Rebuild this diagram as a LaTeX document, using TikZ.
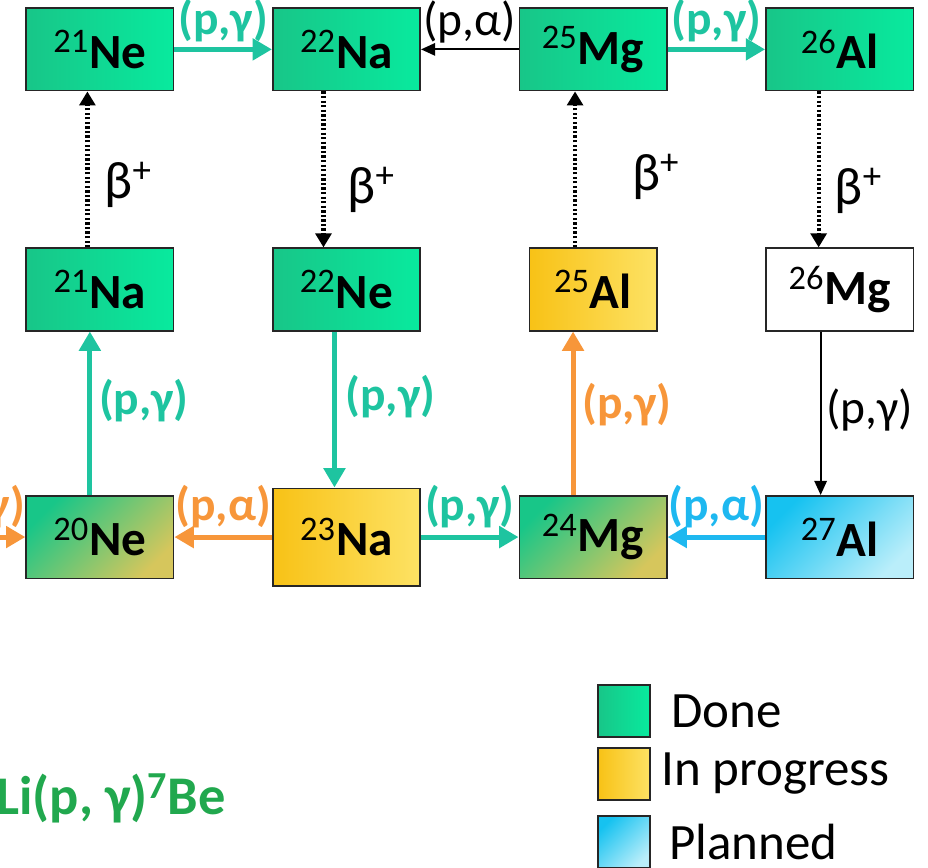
\documentclass[tikz,border=0pt]{standalone}
\usepackage{fontspec}
\setmainfont{Carlito}
\usetikzlibrary{matrix,positioning,arrows.meta}

\definecolor{doneL}{RGB}{24,198,136}
\definecolor{doneR}{RGB}{8,234,158}
\definecolor{progL}{RGB}{248,194,22}
\definecolor{progR}{RGB}{253,226,100}
\definecolor{planL}{RGB}{22,194,240}
\definecolor{planR}{RGB}{186,238,250}
\definecolor{mixR}{RGB}{214,198,92}
\definecolor{pgteal}{RGB}{30,196,160}
\definecolor{pgorange}{RGB}{247,150,58}
\definecolor{pgcyan}{RGB}{30,184,240}
\definecolor{ligreen}{RGB}{33,168,78}

\newcommand{\nuc}[2]{{\mdseries\textsuperscript{#1}}#2}

\begin{document}
\begin{tikzpicture}[ampersand replacement=\&,
  nuc/.style={draw=black!85, line width=0.9pt, minimum width=2.95cm,
    minimum height=1.65cm, anchor=center, font=\bfseries\fontsize{28}{32}\selectfont},
  done/.style={left color=doneL, right color=doneR},
  prog/.style={left color=progL, right color=progR},
  plan/.style={top color=planL, bottom color=planR, shading angle=45},
  mixed/.style={top color=doneL, bottom color=mixR, shading angle=45},
  rx/.style={font=\bfseries\fontsize{27}{31}\selectfont, inner sep=1pt},
  rxblack/.style={font=\fontsize{27}{31}\selectfont, inner sep=1pt},
  beta/.style={font=\fontsize{30}{34}\selectfont, inner sep=0pt},
  flow/.style={line width=2.8pt, -{Stealth[inset=0pt,length=11pt,width=12pt]}},
  thin/.style={line width=1.1pt, -{Stealth[inset=0pt,length=8pt,width=7pt]}},
  decay/.style={line width=2.4pt, dash pattern=on 1.3pt off 1.3pt,
    -{Stealth[inset=0pt,length=8pt,width=9pt]}},
  legbox/.style={draw=black!85, line width=1.1pt, minimum size=1.04cm, inner sep=0pt},
  legtext/.style={font=\fontsize{29}{33}\selectfont, inner sep=0pt}]

  \useasboundingbox (0,0) rectangle (18.56,-17.36);
  \clip (0,0) rectangle (18.56,-17.36);

  \matrix(m)[matrix of nodes, nodes={nuc}, row sep=3.12cm, column sep=1.95cm,
    anchor=north west, inner sep=0pt] at (0.5,-0.14)
  {  |[done]| \nuc{21}{Ne} \& |[done]| \nuc{22}{Na} \& |[done]| \nuc{25}{Mg} \& |[done]| \nuc{26}{Al} \\
     |[done]| \nuc{21}{Na} \& |[done]| \nuc{22}{Ne} \& |[prog, minimum width=2.55cm]| \nuc{25}{Al} \& |[fill=white]| \nuc{26}{Mg} \\
     |[mixed]| \nuc{20}{Ne} \& |[prog, minimum height=1.95cm]| \nuc{23}{Na} \& |[mixed]| \nuc{24}{Mg} \& |[plan]| \nuc{27}{Al} \\};

  \coordinate (in0) at (-1.3,0 |- m-3-1);

  % top row
  \path
    (m-1-1) edge [flow, pgteal] node [above=0.06cm, rx, text=pgteal] {(p,γ)} (m-1-2)
    (m-1-3) edge [thin] node [above=0.08cm, rxblack] {(p,α)} (m-1-2)
    (m-1-3) edge [flow, pgteal] node [above=0.06cm, rx, text=pgteal] {(p,γ)} (m-1-4);

  % beta decays
  \path
    ([xshift=-0.25cm]m-2-1.north) edge [decay] node [pos=0.4, right=0.3cm, beta] {β\textsuperscript{+}} ([xshift=-0.25cm]m-1-1.south)
    ([xshift=-0.46cm]m-1-2.south) edge [decay] node [pos=0.63, right=0.44cm, beta] {β\textsuperscript{+}} ([xshift=-0.46cm]m-2-2.north)
    ([xshift=-0.36cm]m-2-3.north) edge [decay] node [pos=0.45, right=1.1cm, beta] {β\textsuperscript{+}} ([xshift=-0.36cm]m-1-3.south)
    ([xshift=-0.42cm]m-1-4.south) edge [decay] node [pos=0.64, right=0.28cm, beta] {β\textsuperscript{+}} ([xshift=-0.42cm]m-2-4.north);

  % proton captures between rows 2 and 3
  \path
    ([xshift=-0.2cm]m-3-1.north) edge [flow, pgteal] node [pos=0.58, right=0.1cm, rx, text=pgteal] {(p,γ)} ([xshift=-0.2cm]m-2-1.south)
    ([xshift=-0.24cm]m-2-2.south) edge [flow, pgteal] node [pos=0.42, right=0.14cm, rx, text=pgteal] {(p,γ)} ([xshift=-0.24cm]m-3-2.north)
    ([xshift=-0.4cm]m-3-3.north) edge [flow, pgorange] node [pos=0.55, right=0.1cm, rx, text=pgorange] {(p,γ)} ([xshift=-0.4cm]m-2-3.south)
    ([xshift=-0.38cm]m-2-4.south) edge [thin] node [pos=0.48, right=0.06cm, rxblack] {(p,γ)} ([xshift=-0.38cm]m-3-4.north);

  % bottom row
  \path
    (in0) edge [flow, pgorange] node [above=0.1cm, rx, text=pgorange] {(p,γ)} (m-3-1)
    (m-3-2) edge [flow, pgorange] node [above=0.1cm, rx, text=pgorange] {(p,α)} (m-3-1)
    (m-3-2) edge [flow, pgteal] node [above=0.1cm, rx, text=pgteal] {(p,γ)} (m-3-3)
    (m-3-4) edge [flow, pgcyan] node [above=0.1cm, rx, text=pgcyan] {(p,α)} (m-3-3);

  \node (li) [anchor=base west, inner sep=0pt, text=ligreen,
    font=\bfseries\fontsize{31}{35}\selectfont] at (-0.08,-16.28) {Li(p, γ)\textsuperscript{7}Be};

  % legend
  \node (leg1) [legbox, left color=doneL, right color=doneR] at (12.48,-14.22) {};
  \node (leg2) [legbox, left color=progL, right color=progR] at (12.48,-15.48) {};
  \node (leg3) [legbox, top color=planL, bottom color=planR, shading angle=45] at (12.48,-16.84) {};
  \node (done) [legtext, right=0.4cm of leg1] {Done};
  \node (inprog) [legtext, right=0.2cm of leg2] {In progress};
  \node (planned) [legtext, right=0.36cm of leg3] {Planned};
\end{tikzpicture}
\end{document}
